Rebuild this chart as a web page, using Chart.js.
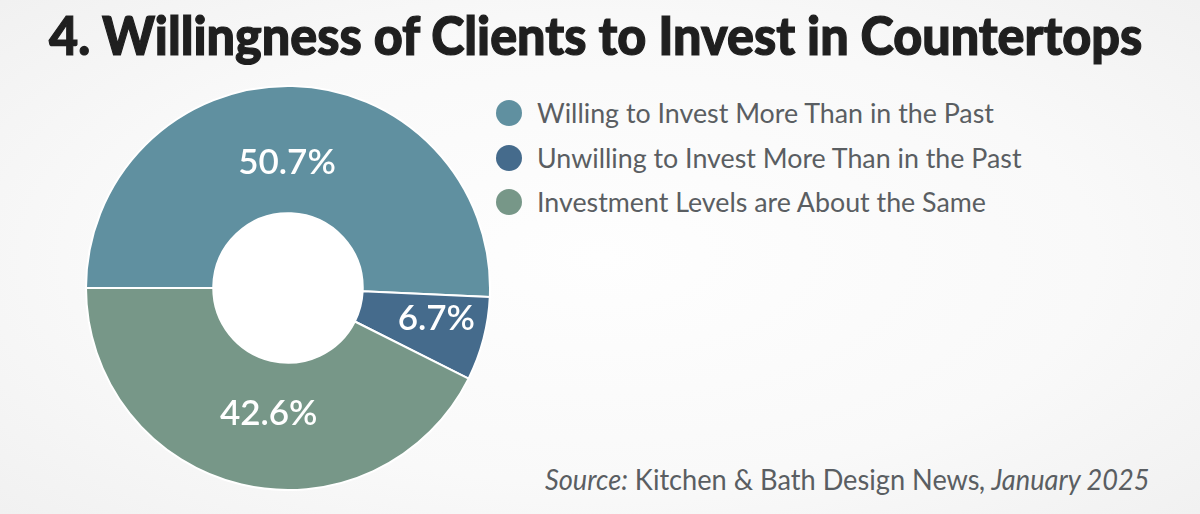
<!DOCTYPE html>
<html>
<head>
<meta charset="utf-8">
<script src="https://cdn.jsdelivr.net/npm/chart.js@4.4.1/dist/chart.umd.min.js"></script>
<style>
  html, body { margin: 0; padding: 0; }
  body {
    width: 1200px; height: 514px; overflow: hidden; position: relative;
    background: radial-gradient(ellipse 75% 80% at 50% 50%, #fefefe 0%, #f9f9f9 55%, #efefef 100%);
    font-family: Lato, "Open Sans", sans-serif;
  }
  #title {
    position: absolute; left: 49px; top: 3px; white-space: nowrap;
    font-size: 53px; font-weight: 900; color: #1f1f1f; transform-origin: 0 0;
    -webkit-text-stroke: 1.2px #1f1f1f;
  }
  #donut { position: absolute; left: 85px; top: 85px; width: 406px; height: 406px; }
  #legend { position: absolute; left: 496px; top: 91px; }
  .item { height: 44.5px; display: flex; align-items: center; white-space: nowrap; }
  .dot { width: 26px; height: 26px; border-radius: 50%; margin-right: 15px; }
  .lbl { font-size: 26.8px; font-weight: 400; color: #5a5e62; }
  #source {
    position: absolute; left: 545px; top: 462px; white-space: nowrap;
    font-size: 28px; font-weight: 400; color: #5a5e62; transform-origin: 0 0;
  }
</style>
</head>
<body>
<div id="title">4. Willingness of Clients to Invest in Countertops</div>
<div id="donut"><canvas id="chart"></canvas></div>
<div id="legend"></div>
<div id="source"><i>Source:</i> Kitchen &amp; Bath Design News<i>, January 2025</i></div>
<script>
// data
const categories = [
  'Willing to Invest More Than in the Past',
  'Unwilling to Invest More Than in the Past',
  'Investment Levels are About the Same'
];
const shares = [50.7, 6.7, 42.6];
const colors = ['#6090a0', '#456b8c', '#779788'];

// squeeze text to the width it has in the picture
function fitWidth(id, w) {
  const el = document.getElementById(id);
  el.style.transform = 'scaleX(' + (w / el.offsetWidth) + ')';
}
fitWidth('title', 1093);
fitWidth('source', 605);

// legend
const legend = document.getElementById('legend');
categories.forEach((c, i) => {
  const row = document.createElement('div');
  row.className = 'item';
  row.innerHTML = '<span class="dot" style="background:' + colors[i] + '"></span><span class="lbl">' + c + '</span>';
  legend.appendChild(row);
});

// white hole in the middle
const holePlugin = {
  id: 'hole',
  beforeDatasetsDraw(chart) {
    const arc = chart.getDatasetMeta(0).data[0];
    if (!arc) return;
    const ctx = chart.ctx;
    ctx.save();
    ctx.fillStyle = '#ffffff';
    ctx.beginPath();
    ctx.arc(arc.x, arc.y, arc.innerRadius, 0, Math.PI * 2);
    ctx.fill();
    ctx.restore();
  }
};

// percentage labels on the slices
const sliceLabels = {
  id: 'sliceLabels',
  afterDatasetsDraw(chart, args, opts) {
    const ctx = chart.ctx;
    ctx.save();
    ctx.fillStyle = '#ffffff';
    ctx.font = opts.font;
    ctx.textAlign = 'center';
    ctx.textBaseline = 'middle';
    chart.getDatasetMeta(0).data.forEach((arc, i) => {
      const mid = (arc.startAngle + arc.endAngle) / 2 + opts.turn[i];
      const r = arc.outerRadius * opts.radii[i];
      ctx.fillText(shares[i].toFixed(1) + '%', arc.x + Math.cos(mid) * r, arc.y + Math.sin(mid) * r);
    });
    ctx.restore();
  }
};

new Chart(document.getElementById('chart'), {
  type: 'doughnut',
  data: {
    labels: categories,
    datasets: [{
      data: shares,
      backgroundColor: colors,
      borderColor: '#ffffff',
      borderWidth: 2
    }]
  },
  options: {
    responsive: true,
    maintainAspectRatio: false,
    animation: false,
    rotation: -90,
    cutout: '37%',
    layout: { padding: 0 },
    plugins: {
      legend: { display: false },
      tooltip: { enabled: false },
      sliceLabels: { font: '600 35px Lato', radii: [0.62, 0.75, 0.63], turn: [-0.03, -0.05, -0.08] }
    }
  },
  plugins: [holePlugin, sliceLabels]
});
</script>
</body>
</html>
